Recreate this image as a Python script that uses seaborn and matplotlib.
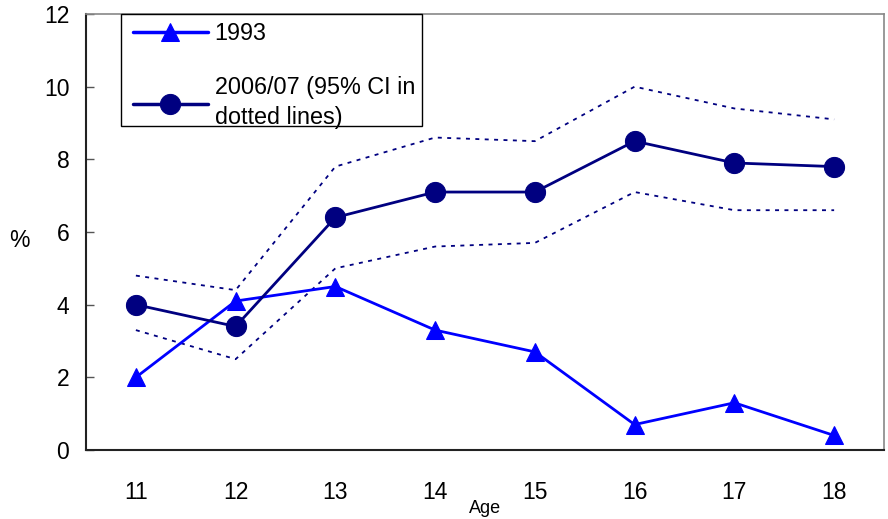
import matplotlib
matplotlib.use("Agg")
import matplotlib.pyplot as plt
import matplotlib.patches as mpatches
import seaborn as sns
import pandas as pd

ages = [11, 12, 13, 14, 15, 16, 17, 18]
pct_1993 = [2.0, 4.1, 4.5, 3.3, 2.7, 0.7, 1.3, 0.4]
pct_2006 = [4.0, 3.4, 6.4, 7.1, 7.1, 8.5, 7.9, 7.8]
ci_upper = [4.8, 4.4, 7.8, 8.6, 8.5, 10.0, 9.4, 9.1]
ci_lower = [3.3, 2.5, 5.0, 5.6, 5.7, 7.1, 6.6, 6.6]
y_ticks = [0, 2, 4, 6, 8, 10, 12]
label_1993 = "1993"
label_2006 = "2006/07 (95% CI in\ndotted lines)"

sns.set_style("white")
plt.rcParams['font.family'] = ['Liberation Sans', 'DejaVu Sans']
plt.rcParams['text.color'] = 'black'
plt.rcParams['xtick.color'] = 'black'
plt.rcParams['ytick.color'] = 'black'
plt.rcParams['axes.labelcolor'] = 'black'

df = pd.DataFrame({"age": ages, "p1993": pct_1993, "p2006": pct_2006,
                   "up": ci_upper, "lo": ci_lower})

W, H = 888, 519
fig = plt.figure(figsize=(W/100, H/100), dpi=100)
ax = fig.add_axes([86/W, 1-450/H, (884-86)/W, (450-14)/H])

navy = "#000080"
blue = "#0000FF"
sns.lineplot(data=df, x="age", y="up", ax=ax, color=navy, lw=1.3,
             linestyle=(0, (2.2, 3.0)), legend=False)
sns.lineplot(data=df, x="age", y="lo", ax=ax, color=navy, lw=1.3,
             linestyle=(0, (2.2, 3.0)), legend=False)
sns.lineplot(data=df, x="age", y="p1993", ax=ax, color=blue, lw=2.0,
             marker="^", markersize=13, markeredgecolor=blue, label=label_1993)
sns.lineplot(data=df, x="age", y="p2006", ax=ax, color=navy, lw=2.0,
             marker="o", markersize=14.5, markeredgecolor=navy, label=label_2006)

ax.set_xlim(10.5, 18.5)
ax.set_ylim(0, 12)
ax.set_yticks(y_ticks)
ax.set_yticklabels([str(t) for t in y_ticks], fontsize=16.5)
ax.set_xticks(ages)
ax.set_xticklabels([str(a) for a in ages], fontsize=16.5)
ax.set_xticks([a + 0.5 for a in ages[:-1]], minor=True)
ax.tick_params(axis="x", which="major", length=0, pad=22)
ax.tick_params(axis="x", which="minor", direction="in", length=6, width=1, color="#333333")
ax.tick_params(axis="y", direction="in", length=6, width=1, color="#555555", pad=12, left=True)

for s in ["left", "bottom"]:
    ax.spines[s].set_color("#222222")
    ax.spines[s].set_linewidth(1.5)
for s in ["top", "right"]:
    ax.spines[s].set_color("#888888")
    ax.spines[s].set_linewidth(1.2)

ax.set_xlabel("Age", fontsize=13, labelpad=0, va="center")
ax.xaxis.set_label_coords(0.5, -0.135)
ax.set_ylabel("%", fontsize=16.5, rotation=0, va="center", ha="center")
ax.yaxis.set_label_coords(-0.083, 0.48)

leg = ax.legend(loc="upper left", bbox_to_anchor=(133/W, 1-22/H),
                bbox_transform=fig.transFigure, fontsize=16.8, frameon=False,
                handlelength=3.2, borderpad=0.0, labelspacing=1.35,
                handletextpad=0.3, borderaxespad=0)
for t in leg.get_texts():
    t.set_linespacing(1.38)
for h in leg.legend_handles:
    h.set_linewidth(2.5)

# legend frame
frame = mpatches.Rectangle((121/W, 1-126/H), (422-121)/W, (126-14)/H,
                           transform=fig.transFigure, fill=False,
                           edgecolor="black", linewidth=1.0, zorder=5)
fig.add_artist(frame)

fig.savefig("out.png", dpi=100)
